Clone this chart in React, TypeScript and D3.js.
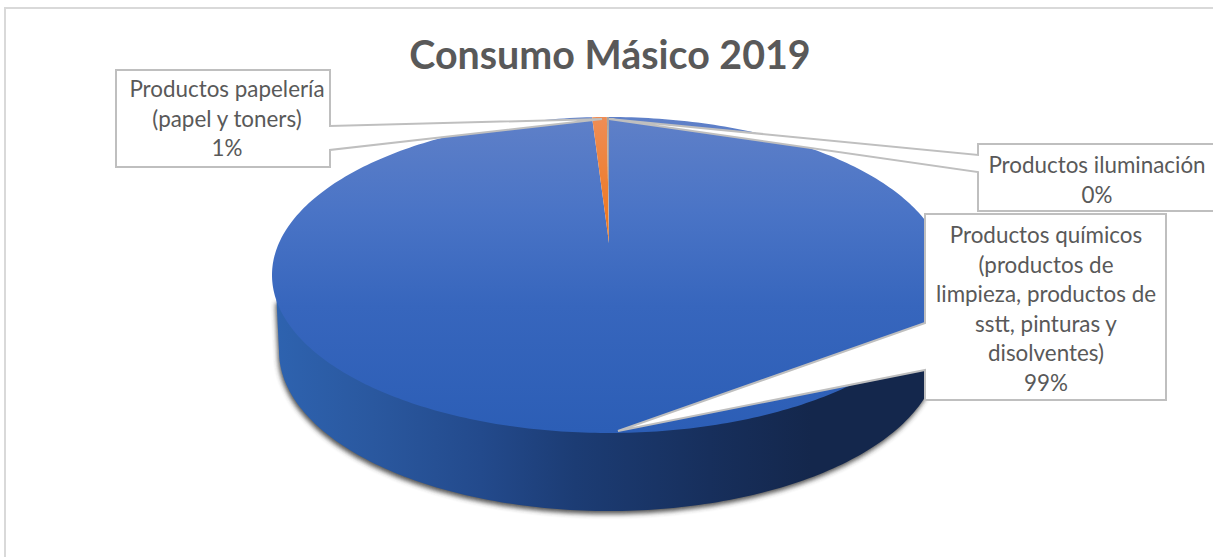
import React from "react";
import * as d3 from "d3";

const W = 1213, H = 557;

const title = "Consumo Másico 2019";
const categories = ["Productos químicos", "Productos papelería", "Productos iluminación"];
const values = [99.2, 0.7, 0.1];
const quimicosLines = ["Productos químicos", "(productos de", "limpieza, productos de", "sstt, pinturas y", "disolventes)", "99%"];
const papeleriaLines = ["Productos papelería", "(papel y toners)", "1%"];
const iluminacionLines = ["Productos iluminación", "0%"];

const FONT = "Lato, Carlito, Calibri, sans-serif";
const TEXT = "#595959";
const EDGE = "#bfbfbf";

// perspective pie geometry
const cx = 609, rimCy = 275, rx = 337, ry = 158, apexY = 243;
const botCy = 351, botRx = 330, botRy = 160;

const pieGen = d3.pie<number>().sort(null).startAngle(0).endAngle(2 * Math.PI);
const arcs = pieGen(values);

const rim = (t: number): [number, number] => [cx + rx * Math.sin(t), rimCy - ry * Math.cos(t)];
const line = d3.line();

function wedgePath(a0: number, a1: number) {
  const n = Math.max(2, Math.ceil((a1 - a0) * 60));
  const pts = d3.range(n + 1).map((i) => rim(a0 + ((a1 - a0) * i) / n));
  return line([[cx, apexY], ...pts]) + "Z";
}

function ellipseHalf(cxx: number, cy: number, a: number, b: number, n = 160): [number, number][] {
  return d3.range(n + 1).map((i) => {
    const t = (Math.PI * i) / n; // left -> bottom -> right
    return [cxx - a * Math.cos(t), cy + b * Math.sin(t)] as [number, number];
  });
}

const sideOutline: [number, number][] = [
  [cx - 332.5, 300],
  ...ellipseHalf(cx, botCy, botRx, botRy),
  [cx + 332.5, 300],
];
const sidePath = line(sideOutline) + "Z";

const sliceFill = ["url(#topBlue)", "url(#topOrange)", "#a5a5a5"];

function Callout({ d, lines, tx, y0, lh }: { d: string; lines: string[]; tx: number; y0: number; lh: number }) {
  return (
    <g>
      <path d={d} fill="#fff" stroke={EDGE} strokeWidth={2} strokeLinejoin="miter" />
      <text fontFamily={FONT} fontSize={22.4} fill={TEXT} textAnchor="middle">
        {lines.map((l, i) => (
          <tspan key={i} x={tx} y={y0 + i * lh}>{l}</tspan>
        ))}
      </text>
    </g>
  );
}

export default function App() {
  return (
    <svg width={W} height={H} viewBox={`0 0 ${W} ${H}`} style={{ position: "fixed", left: 0, top: 0, background: "#fff" }}>
      <defs>
        <linearGradient id="topBlue" gradientUnits="userSpaceOnUse" x1={0} y1={117} x2={0} y2={432}>
          <stop offset="0" stopColor="#5f80c8" />
          <stop offset="0.3" stopColor="#4a74c6" />
          <stop offset="0.6" stopColor="#3766bd" />
          <stop offset="1" stopColor="#2c5eb6" />
        </linearGradient>
        <linearGradient id="topOrange" gradientUnits="userSpaceOnUse" x1={0} y1={117} x2={0} y2={243}>
          <stop offset="0" stopColor="#ee8d55" />
          <stop offset="1" stopColor="#ee7418" />
        </linearGradient>
        <linearGradient id="side" gradientUnits="userSpaceOnUse" x1={272} y1={0} x2={946} y2={0}>
          <stop offset="0" stopColor="#2e63b0" />
          <stop offset="0.15" stopColor="#2a589f" />
          <stop offset="0.31" stopColor="#234a8c" />
          <stop offset="0.45" stopColor="#1c3c74" />
          <stop offset="0.65" stopColor="#172f5c" />
          <stop offset="0.8" stopColor="#14274c" />
          <stop offset="1" stopColor="#14274c" />
        </linearGradient>
        <filter id="blur" x="-10%" y="-10%" width="120%" height="120%">
          <feGaussianBlur stdDeviation="2.6" />
        </filter>
      </defs>

      <path d="M5 557V8H1213" fill="none" stroke="#d9d9d9" strokeWidth={2} />

      <text x={610} y={69} textAnchor="middle" fontFamily={FONT} fontWeight={700} fontSize={39.4} fill={TEXT}>{title}</text>

      {/* pie */}
      <path d={sidePath} fill="#333" opacity={0.85} filter="url(#blur)" transform="translate(-1,3)" />
      <path d={sidePath} fill="url(#side)" />
      <g>
        {arcs.map((a, i) => (
          <path key={categories[i]} d={wedgePath(a.startAngle, a.endAngle)} fill={sliceFill[i]} />
        ))}
      </g>

      {/* callouts */}
      <Callout
        d="M116 70H330V126L602 119L330 150V167H116Z"
        lines={papeleriaLines} tx={227} y0={97} lh={29.5}
      />
      <Callout
        d="M978 144H1220V211H978V172L609 119L978 155Z"
        lines={iluminacionLines} tx={1097} y0={173} lh={29.5}
      />
      <Callout
        d="M925 214H1166V400H925V370L618 431L925 323Z"
        lines={quimicosLines} tx={1046} y0={243} lh={29.5}
      />
    </svg>
  );
}
